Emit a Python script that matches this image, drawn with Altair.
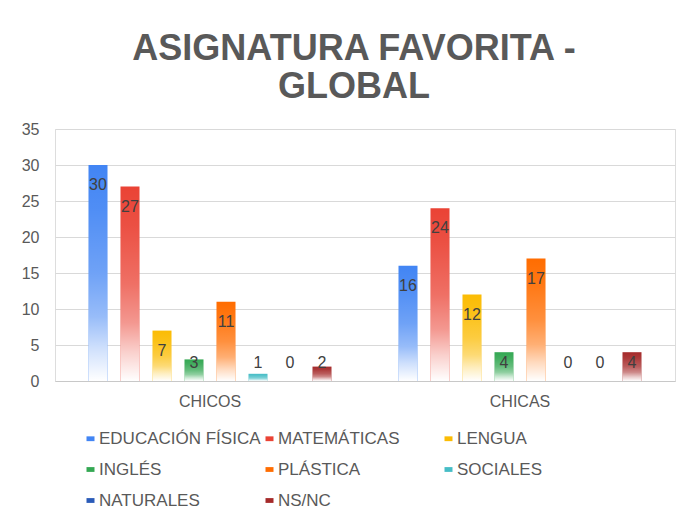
import altair as alt
import pandas as pd

grupos = ["CHICOS", "CHICAS"]
asignaturas = ["EDUCACIÓN FÍSICA", "MATEMÁTICAS", "LENGUA", "INGLÉS",
               "PLÁSTICA", "SOCIALES", "NATURALES", "NS/NC"]
chicos = [30, 27, 7, 3, 11, 1, 0, 2]
chicas = [16, 24, 12, 4, 17, 0, 0, 4]
colores = ["#4285F4", "#EA4335", "#FBBC04", "#34A853",
           "#FF6D01", "#46BDC6", "#2A5BB8", "#A52A2A"]
y_ticks = [0, 5, 10, 15, 20, 25, 30, 35]
titulo = ["ASIGNATURA FAVORITA -", "GLOBAL"]

rows = []
for g, vals in zip(grupos, [chicos, chicas]):
    for a, v in zip(asignaturas, vals):
        rows.append({"grupo": g, "asignatura": a, "valor": v})
df = pd.DataFrame(rows)

FONT = "Liberation Sans"
GRAY = "#595959"

x = alt.X("grupo:N", sort=grupos,
          scale=alt.Scale(paddingInner=0.0097, paddingOuter=0.00485),
          axis=alt.Axis(title=None, labelAngle=0, ticks=False, domain=True,
                        domainColor="#c8c8c8", labelFontSize=16,
                        labelColor=GRAY, labelPadding=12, labelFont=FONT))
xo = alt.XOffset("asignatura:N", sort=asignaturas,
                 scale=alt.Scale(domain=asignaturas, paddingInner=0.40625,
                                 paddingOuter=1))
y_scale = alt.Scale(domain=[0, 35], nice=False)
y_axis = alt.Axis(title=None, values=y_ticks, domain=False, ticks=False,
                  labelPadding=16, labelFontSize=16, labelColor=GRAY,
                  labelFont=FONT, gridColor="#d9d9d9", labelOverlap=False)
y = alt.Y("valor:Q", scale=y_scale, axis=y_axis)

bars = alt.Chart(df).mark_bar().encode(
    x=x, xOffset=xo, y=y,
    color=alt.Color("asignatura:N", sort=asignaturas,
                    scale=alt.Scale(domain=asignaturas, range=colores),
                    legend=alt.Legend(
                        title=None, orient="none", legendX=27, legendY=301,
                        direction="horizontal",
                        columns=3, gridAlign="all", columnPadding=0,
                        rowPadding=13, padding=0,
                        symbolType="M-1,-0.6H1V0.6H-1Z", symbolSize=64,
                        symbolStrokeWidth=0, labelFontSize=17,
                        labelColor=GRAY, labelFont=FONT, labelOffset=0,
                        labelLimit=400)),
)

fade = alt.Chart(df).mark_bar(
    color=alt.Gradient(
        gradient="linear", x1=0, x2=0, y1=0, y2=1,
        stops=[alt.GradientStop(color="rgba(255,255,255,0)", offset=0),
               alt.GradientStop(color="rgba(255,255,255,0.07)", offset=0.2),
               alt.GradientStop(color="rgba(255,255,255,0.24)", offset=0.5),
               alt.GradientStop(color="rgba(255,255,255,0.45)", offset=0.7),
               alt.GradientStop(color="rgba(255,255,255,0.75)", offset=0.85),
               alt.GradientStop(color="rgba(255,255,255,1)", offset=1)])
).encode(x=x, xOffset=xo, y=y)

labels = alt.Chart(df).transform_calculate(
    pos="max(datum.valor - 2.8, 2.45)"
).mark_text(fontSize=16, color="#404040", font=FONT, baseline="middle").encode(
    x=x, xOffset=xo, y=alt.Y("pos:Q", scale=y_scale, axis=y_axis),
    text="valor:Q")

chart = alt.layer(bars, fade, labels).properties(
    width=620, height=252,
    title=alt.TitleParams(titulo, fontSize=36, font=FONT, fontWeight="bold",
                          color=GRAY, anchor="middle", dx=-11, lineHeight=38,
                          offset=15),
    autosize=alt.AutoSizeParams(type="none"),
    padding={"left": 47, "top": 121, "right": 6, "bottom": 130},
).configure_view(stroke=None).configure(background="white")

chart.save("out.html", embed_options={"renderer": "svg", "actions": False})
